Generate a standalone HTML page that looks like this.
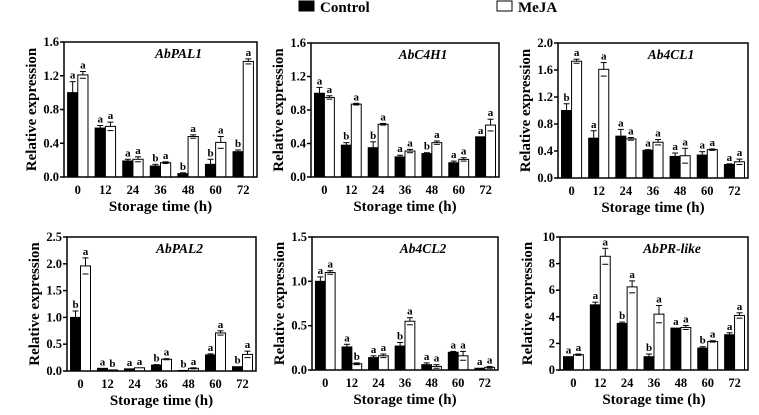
<!DOCTYPE html>
<html><head><meta charset="utf-8"><style>
body{margin:0;background:#fff;font-family:"Liberation Serif","Times New Roman","DejaVu Serif",serif;}
svg{display:block;}
text{font-family:"Liberation Serif","Times New Roman","DejaVu Serif",serif !important;font-weight:bold;}
</style></head><body>
<svg id="chart" width="759" height="415" viewBox="0 0 759 415">
<g>
<rect x="299" y="1" width="15" height="10" fill="#000" stroke="#000"/>
<text x="320" y="12" font-size="15" font-family="Liberation Serif">Control</text>
<rect x="497" y="1" width="15" height="10" fill="#fff" stroke="#000"/>
<text x="518" y="12" font-size="15" font-family="Liberation Serif">MeJA</text>
</g>
</svg>
<script>
const categories=["0","12","24","36","48","60","72"];
const titles=["AbPAL1","AbC4H1","Ab4CL1","AbPAL2","Ab4CL2","AbPR-like"];
const yMax=[1.6,1.6,2.0,2.5,1.5,10];
const yStep=[0.4,0.4,0.4,0.5,0.5,2];
const yDigits=[1,1,1,1,1,0];
const control=[
[1.0,0.58,0.19,0.13,0.04,0.15,0.30],
[1.0,0.38,0.35,0.24,0.28,0.17,0.48],
[1.0,0.59,0.62,0.41,0.32,0.34,0.20],
[1.0,0.05,0.04,0.11,0.01,0.30,0.08],
[1.0,0.26,0.14,0.27,0.06,0.20,0.02],
[1.0,4.9,3.5,1.0,3.15,1.65,2.65]];
const controlErr=[
[0.13,0.03,0.02,0.02,0.01,0.06,0.02],
[0.07,0.03,0.07,0.02,0.01,0.02,0.0],
[0.1,0.11,0.1,0.01,0.05,0.05,0.01],
[0.12,0.0,0.0,0.01,0.0,0.02,0.0],
[0.05,0.03,0.02,0.04,0.02,0.01,0.0],
[0.0,0.2,0.1,0.2,0.0,0.1,0.15]];
const meja=[
[1.21,0.60,0.21,0.17,0.48,0.41,1.37],
[0.95,0.87,0.63,0.31,0.41,0.21,0.62],
[1.73,1.61,0.58,0.53,0.33,0.42,0.24],
[1.96,0.02,0.06,0.22,0.05,0.71,0.31],
[1.10,0.07,0.16,0.55,0.04,0.16,0.03],
[1.15,8.55,6.25,4.2,3.2,2.15,4.1]];
const mejaErr=[
[0.04,0.05,0.03,0.01,0.02,0.07,0.03],
[0.02,0.01,0.01,0.02,0.02,0.02,0.07],
[0.03,0.1,0.02,0.04,0.11,0.01,0.04],
[0.15,0.0,0.0,0.01,0.01,0.04,0.06],
[0.02,0.01,0.02,0.04,0.02,0.05,0.01],
[0.05,0.6,0.45,0.65,0.15,0.05,0.2]];
const controlLetters=[
["a","a","a","b","b","b","b"],
["a","b","b","a","b","a","a"],
["b","a","a","a","a","a","a"],
["b","a","a","b","b","a","b"],
["a","a","a","b","a","a","a"],
["a","a","b","b","a","b","a"]];
const mejaLetters=[
["a","a","a","a","a","a","a"],
["a","a","a","a","a","a","a"],
["a","a","a","a","a","a","a"],
["a","b","a","a","a","a","a"],
["a","b","a","a","a","a","a"],
["a","a","a","a","a","a","a"]];

const boxes=[[64,42,257,177],[311,43,499,177],[558,43,748,178],[67,237,256,371],[312,237,498,370],[560,237,748,370]];
const NS="http://www.w3.org/2000/svg";
const svg=document.getElementById("chart");
function mk(tag,attrs,parent){const e=document.createElementNS(NS,tag);for(const k in attrs)e.setAttribute(k,attrs[k]);if(tag==="text")e.setAttribute("font-family","Liberation Serif");parent.appendChild(e);return e;}
boxes.forEach((b,p)=>{
  const [L,T,R,B]=b;
  const g=mk("g",{},svg);
  
  
  const y=v=>B-(v/yMax[p])*(B-T);
  const gw=(R-L)/categories.length;
  const x=i=>L+gw*(i+0.5);
  const bw=gw*0.37;
  for(let k=0;k*yStep[p]<=yMax[p]+1e-9;k++){
    const v=k*yStep[p];
    mk("line",{x1:L-4,x2:L,y1:y(v),y2:y(v),stroke:"#000","stroke-width":1.5},g);
    const t=mk("text",{x:L-5,y:y(v)+4,"font-size":12.5,"text-anchor":"end"},g);
    t.textContent=v.toFixed(yDigits[p]);
    
    
  }
  categories.forEach((c,i)=>{
    const t=mk("text",{x:x(i),y:B+17,"font-size":12.5,"text-anchor":"middle"},g);
    t.textContent=c;
    
    
    const series=[[control,controlErr,controlLetters,"#000",-1],[meja,mejaErr,mejaLetters,"#fff",0]];
    series.forEach(s=>{
      const v=s[0][p][i],e=s[1][p][i];
      const bx=x(i)+s[4]*bw;
      const r=mk("rect",{x:bx,y:y(v),width:bw,height:B-y(v),fill:s[3],stroke:"#000","stroke-width":1},g);
      
      
      const cx=bx+bw/2;
      if(e>0){
        mk("line",{x1:cx,x2:cx,y1:y(v),y2:y(v+e),stroke:"#000","stroke-width":1},g);
        mk("line",{x1:cx-3,x2:cx+3,y1:y(v+e),y2:y(v+e),stroke:"#000","stroke-width":1},g);
        if(s[3]=="#fff") mk("line",{x1:cx-3,x2:cx+3,y1:y(v-e),y2:y(v-e),stroke:"#000","stroke-width":1},g);
      }
      const lt=mk("text",{x:cx,y:y(v+e)-3,"font-size":11,"text-anchor":"middle"},g);
      lt.textContent=s[2][p][i];
      
      
    });
  });
  const fr=mk("rect",{x:L,y:T,width:R-L,height:B-T,fill:"none",stroke:"#000","stroke-width":1.5},g);
  
  
  const ti=mk("text",{x:(L+R)/2+18,y:T+16,"font-size":13.5,"font-style":"italic","text-anchor":"middle"},g);
  ti.textContent=titles[p];
  
  
  const xl=mk("text",{x:(L+R)/2,y:B+34,"font-size":15,"text-anchor":"middle"},g);
  xl.textContent="Storage time (h)";
  
  
  const yx=L-28,yc=(T+B)/2;
  const yl=mk("text",{x:yx,y:yc,"font-size":15,"text-anchor":"middle",transform:`rotate(-90 ${yx} ${yc})`},g);
  yl.textContent="Relative expression";
  
  
});
</script>
</body></html>
